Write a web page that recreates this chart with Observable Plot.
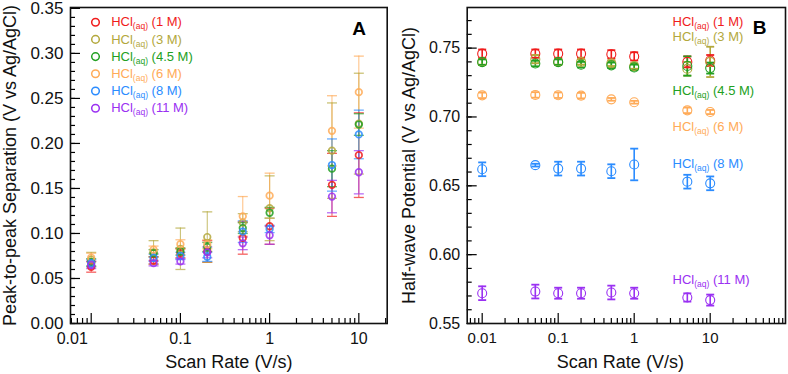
<!DOCTYPE html>
<html><head><meta charset="utf-8">
<script src="https://cdn.jsdelivr.net/npm/d3@7"></script>
<script src="https://cdn.jsdelivr.net/npm/@observablehq/plot@0.6"></script>
<style>
body{margin:0;background:#fff;}
#wrap{position:relative;width:788px;height:374px;overflow:hidden;}
#wrap svg{position:absolute;top:0;max-width:none;display:block;}
</style></head><body><div id="wrap"></div>
<script>
// ---------- data ----------
const series = ["1 M", "3 M", "4.5 M", "6 M", "8 M", "11 M"];
const colors = ["#f01c1c", "#b3a83c", "#22a022", "#ffab58", "#2b8cff", "#9a30f2"];
const rates = [0.01, 0.05, 0.1, 0.2, 0.5, 1, 5, 10];

// Panel A: peak-to-peak separation (V) and error
const sep1M   = [0.063, 0.070, 0.078, 0.080, 0.095, 0.108, 0.154, 0.187];
const sep1Me  = [0.006, 0.004, 0.005, 0.012, 0.018, 0.020, 0.035, 0.047];
const sep3M   = [0.071, 0.079, 0.083, 0.096, 0.112, 0.128, 0.192, 0.222];
const sep3Me  = [0.008, 0.013, 0.023, 0.028, 0.010, 0.036, 0.053, 0.056];
const sep45M  = [0.068, 0.078, 0.080, 0.085, 0.106, 0.123, 0.172, 0.221];
const sep45Me = [0.004, 0.004, 0.004, 0.005, 0.006, 0.006, 0.020, 0.012];
const sep6M   = [0.073, 0.082, 0.088, 0.088, 0.119, 0.142, 0.214, 0.257];
const sep6Me  = [0.005, 0.004, 0.005, 0.005, 0.022, 0.025, 0.039, 0.040];
const sep8M   = [0.067, 0.073, 0.075, 0.074, 0.102, 0.105, 0.176, 0.210];
const sep8Me  = [0.004, 0.004, 0.004, 0.005, 0.012, 0.004, 0.029, 0.027];
const sep11M  = [0.065, 0.067, 0.069, 0.079, 0.089, 0.098, 0.141, 0.168];
const sep11Me = [0.004, 0.003, 0.003, 0.006, 0.007, 0.010, 0.018, 0.024];

// Panel B: half-wave potential (V) and error
const e1M   = [0.746, 0.746, 0.746, 0.746, 0.7455, 0.744, 0.740, 0.741];
const e1Me  = [0.003, 0.003, 0.003, 0.003, 0.003, 0.003, 0.004, 0.004];
const e3M   = [0.740, 0.742, 0.740, 0.740, 0.739, 0.737, 0.735, 0.740];
const e3Me  = [0.002, 0.003, 0.002, 0.002, 0.002, 0.002, 0.005, 0.011];
const e45M  = [0.7398, 0.7388, 0.7398, 0.738, 0.7375, 0.736, 0.737, 0.7355];
const e45Me = [0.002, 0.002, 0.002, 0.002, 0.002, 0.002, 0.007, 0.004];
const e6M   = [0.7157, 0.716, 0.7158, 0.7155, 0.7128, 0.7107, 0.7048, 0.7036];
const e6Me  = [0.002, 0.002, 0.002, 0.002, 0.001, 0.001, 0.002, 0.0015];
const e8M   = [0.662, 0.665, 0.6625, 0.6625, 0.6606, 0.6655, 0.653, 0.6518];
const e8Me  = [0.005, 0.001, 0.005, 0.005, 0.005, 0.0115, 0.005, 0.005];
const e11M  = [0.572, 0.5732, 0.572, 0.572, 0.5725, 0.572, 0.5689, 0.567];
const e11Me = [0.005, 0.005, 0.004, 0.004, 0.005, 0.004, 0.003, 0.004];

// Panel B in-plot series labels (data-space anchor)
const labelXB = 3.2;
const labelYB = [0.7689, 0.758, 0.719, 0.6929, 0.6663, 0.5815];

// tick values
const yMajorA = [0, 0.05, 0.10, 0.15, 0.20, 0.25, 0.30, 0.35];
const yMinorA = d3.range(0, 36).map(i => i / 100);
const yMajorB = [0.55, 0.60, 0.65, 0.70, 0.75];
const yMinorB = d3.range(55, 78).map(i => i / 100);
const xMajor = [0.01, 0.1, 1, 10];
const xMinor = [0.001, 0.01, 0.1, 1, 10].flatMap(d => d3.range(2, 10).map(k => +(d * k).toPrecision(3)));

// ---------- build rows ----------
const sepVals = [sep1M, sep3M, sep45M, sep6M, sep8M, sep11M];
const sepErrs = [sep1Me, sep3Me, sep45Me, sep6Me, sep8Me, sep11Me];
const eVals = [e1M, e3M, e45M, e6M, e8M, e11M];
const eErrs = [e1Me, e3Me, e45Me, e6Me, e8Me, e11Me];
function rows(vals, errs) {
  return series.flatMap((s, i) => rates.map((r, j) => ({series: s, rate: r, v: vals[i][j], e: errs[i][j]})));
}
const rowsA = rows(sepVals, sepErrs);
const rowsB = rows(eVals, eErrs);

const cap = {draw(ctx, size) { const w = Math.sqrt(size / Math.PI); ctx.moveTo(-w, 0); ctx.lineTo(w, 0); }};
const font = "Liberation Sans, Arial, Helvetica, sans-serif";
const MARK = "HCl|";

function hclFix(svg) {
  const ns = "http://www.w3.org/2000/svg";
  svg.querySelectorAll("text").forEach(t => {
    const s = t.textContent;
    if (!s.startsWith(MARK)) return;
    t.textContent = "";
    const a = document.createElementNS(ns, "tspan"); a.textContent = "HCl";
    const b = document.createElementNS(ns, "tspan"); b.textContent = "(aq)";
    b.setAttribute("font-size", "8.5"); b.setAttribute("dy", "3");
    const c = document.createElementNS(ns, "tspan"); c.textContent = " " + s.slice(MARK.length);
    c.setAttribute("dy", "-3");
    t.append(a, b, c);
  });
}

function axesMarks(xDomain, yMajor, yMinor, xFont, yFont, shift001) {
  const common = {label: null, labelArrow: false};
  return [
    Plot.axisY({...common, ticks: yMinor, tickSize: -5, tickFormat: () => "", strokeWidth: 1.2}),
    Plot.axisY({...common, ticks: yMajor, tickSize: -10, tickFormat: () => "", strokeWidth: 1.2}),
    Plot.axisY({...common, ticks: yMajor, tickSize: 0, tickPadding: 7, tickFormat: d3.format(".2f"), fontSize: yFont, fill: "#111"}),
    Plot.axisX({...common, ticks: xMinor.filter(d => d > xDomain[0] && d < xDomain[1]), tickSize: -5, tickFormat: () => "", strokeWidth: 1.2}),
    Plot.axisX({...common, ticks: xMajor, tickSize: -10, tickFormat: () => "", strokeWidth: 1.2}),
    Plot.axisX({...common, ticks: shift001 ? [0.1, 1, 10] : xMajor, tickSize: 0, tickPadding: 9, tickFormat: d => String(d), fontSize: xFont, fill: "#111"}),
    ...(shift001 ? [Plot.axisX({...common, ticks: [0.01], tickSize: 0, tickPadding: 9, tickFormat: d => String(d), fontSize: xFont, fill: "#111", dx: -19})] : []),
    Plot.frame({strokeWidth: 1.6, stroke: "#111"})
  ];
}

// ---------- Panel A ----------
const xDomA = [0.00586, 20.8];
const A = Plot.plot({
  width: 392, height: 374,
  marginLeft: 70, marginRight: 5.3, marginTop: 7, marginBottom: 51,
  style: {fontFamily: font, background: "white", overflow: "visible"},
  x: {type: "log", domain: xDomA, axis: null},
  y: {domain: [0, 0.351], axis: null},
  color: {domain: series, range: colors},
  marks: [
    ...axesMarks(xDomA, yMajorA, yMinorA, 16, 17, true),
    Plot.ruleX(rowsA, {x: "rate", y1: d => d.v - d.e, y2: d => d.v + d.e, stroke: "series", strokeWidth: 1.1, strokeOpacity: 0.7}),
    Plot.dot(rowsA, {x: "rate", y: d => d.v - d.e, symbol: cap, r: 5, stroke: "series", strokeWidth: 1.3, strokeOpacity: 0.7}),
    Plot.dot(rowsA, {x: "rate", y: d => d.v + d.e, symbol: cap, r: 5, stroke: "series", strokeWidth: 1.3, strokeOpacity: 0.7}),
    Plot.dot(rowsA, {x: "rate", y: "v", r: 3.3, stroke: "series", strokeWidth: 1.7, fill: "none", strokeOpacity: 0.85}),
    ...series.flatMap((s, i) => [
      Plot.dot([s], {frameAnchor: "top-left", dx: 25, dy: 14.7 + i * 17.2, r: 3.8, stroke: colors[i], strokeWidth: 1.5, fill: "none"}),
      Plot.text([s], {frameAnchor: "top-left", dx: 40.7, dy: 14.7 + i * 17.2, text: d => MARK + "(" + d + ")", textAnchor: "start", lineAnchor: "middle", fill: colors[i], fontSize: 13})
    ]),
    Plot.text(["A"], {frameAnchor: "top-right", dx: -28, dy: 21, textAnchor: "middle", lineAnchor: "middle", fontSize: 19, fontWeight: "bold", fill: "#000"}),
    Plot.text(["Peak-to-peak Separation (V vs Ag/AgCl)"], {frameAnchor: "left", dx: -60, rotate: -90, textAnchor: "middle", lineAnchor: "middle", fontSize: 18, fill: "#111"}),
    Plot.text(["Scan Rate (V/s)"], {frameAnchor: "bottom", dy: 39, textAnchor: "middle", lineAnchor: "middle", fontSize: 18, fill: "#111"})
  ]
});

// ---------- Panel B ----------
const xDomB = [0.00635, 97.9];
const B = Plot.plot({
  width: 396, height: 374,
  marginLeft: 74.7, marginRight: 3, marginTop: 7, marginBottom: 51,
  style: {fontFamily: font, background: "white", overflow: "visible"},
  x: {type: "log", domain: xDomB, axis: null},
  y: {domain: [0.55, 0.7795], axis: null},
  color: {domain: series, range: colors},
  marks: [
    ...axesMarks(xDomB, yMajorB, yMinorB, 15, 16, false),
    Plot.ruleX(rowsB, {x: "rate", y1: d => d.v - d.e, y2: d => d.v + d.e, stroke: "series", strokeWidth: 1.6}),
    Plot.dot(rowsB, {x: "rate", y: d => d.v - d.e, symbol: cap, r: 4, stroke: "series", strokeWidth: 1.8}),
    Plot.dot(rowsB, {x: "rate", y: d => d.v + d.e, symbol: cap, r: 4, stroke: "series", strokeWidth: 1.8}),
    Plot.dot(rowsB, {x: "rate", y: "v", r: 4.5, stroke: "series", strokeWidth: 1.1, fill: "none"}),
    Plot.text(series, {x: () => labelXB, y: (d, i) => labelYB[i], text: d => MARK + "(" + d + ")", textAnchor: "start", fill: d => colors[series.indexOf(d)], fontSize: 13}),
    Plot.text(["B"], {frameAnchor: "top-right", dx: -26, dy: 20, textAnchor: "middle", lineAnchor: "middle", fontSize: 19, fontWeight: "bold", fill: "#000"}),
    Plot.text(["Half-wave Potential (V vs Ag/AgCl)"], {frameAnchor: "left", dx: -58, rotate: -90, textAnchor: "middle", lineAnchor: "middle", fontSize: 18, fill: "#111"}),
    Plot.text(["Scan Rate (V/s)"], {frameAnchor: "bottom", dx: -6, dy: 39, textAnchor: "middle", lineAnchor: "middle", fontSize: 18, fill: "#111"})
  ]
});

hclFix(A); hclFix(B);
A.style.left = "0px"; B.style.left = "392px";
document.getElementById("wrap").append(A, B);
</script></body></html>
